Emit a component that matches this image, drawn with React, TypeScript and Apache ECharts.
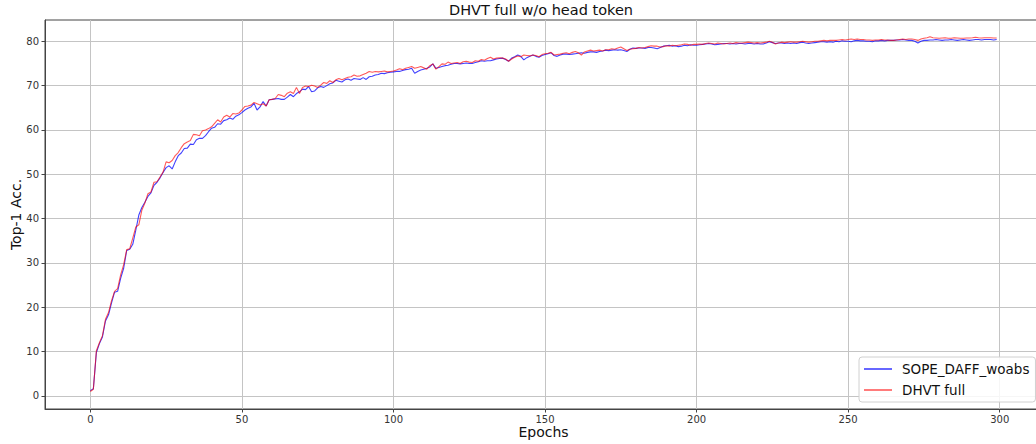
import React, { useEffect, useRef } from "react";
import * as echarts from "echarts";

const chartTitle = "DHVT full w/o head token";
const seriesNames = ["SOPE_DAFF_woabs", "DHVT full"];
const xTicks = [0, 50, 100, 150, 200, 250, 300];
const yTicks = [0, 10, 20, 30, 40, 50, 60, 70, 80];

// Top-1 accuracy per epoch (0..299)
const sopeDaffWoabs = [
  1.2, 1.6, 9.8, 11.8, 13.3, 16.9, 18.3, 21.0, 23.4, 23.6,
  26.5, 28.8, 32.8, 33.1, 34.2, 37.4, 40.8, 42.5, 43.7, 45.0,
  45.8, 47.5, 48.2, 49.2, 50.4, 51.5, 51.9, 51.2, 52.8, 54.2,
  54.8, 55.8, 55.9, 56.8, 56.7, 57.8, 58.1, 58.1, 58.7, 59.6,
  60.4, 60.6, 61.4, 61.3, 62.1, 62.3, 62.7, 62.4, 63.1, 63.4,
  63.9, 64.5, 64.9, 65.2, 66.0, 64.5, 65.2, 66.4, 65.4, 66.8,
  66.9, 67.0, 67.1, 66.9, 66.9, 67.4, 68.0, 67.5, 68.2, 68.6,
  69.2, 69.1, 69.8, 68.6, 68.8, 69.5, 69.8, 69.6, 70.0, 70.4,
  70.6, 71.2, 71.0, 70.8, 71.3, 71.5, 71.2, 71.6, 71.5, 71.4,
  71.8, 71.4, 72.0, 72.1, 72.4, 72.5, 72.8, 72.7, 72.9, 73.0,
  73.1, 73.2, 73.2, 73.4, 73.6, 73.7, 73.9, 72.8, 73.2, 73.5,
  73.7, 73.9, 74.2, 74.9, 73.9, 74.1, 74.3, 74.5, 74.6, 74.8,
  75.0, 75.0, 74.9, 75.0, 75.1, 75.0, 75.0, 75.2, 75.4, 75.6,
  75.5, 75.6, 75.6, 75.8, 76.0, 76.1, 76.2, 75.9, 75.5, 76.2,
  76.5, 76.9, 76.6, 75.8, 76.3, 76.6, 76.9, 76.6, 76.4, 76.8,
  77.0, 77.2, 77.4, 76.8, 76.6, 76.9, 77.1, 77.1, 77.0, 77.1,
  77.2, 77.3, 77.4, 77.3, 77.5, 77.6, 77.6, 77.5, 77.7, 77.8,
  78.0, 77.9, 78.0, 78.1, 78.0, 78.1, 77.9, 77.7, 78.2, 78.5,
  78.4, 78.5, 78.5, 78.4, 78.6, 78.6, 78.5, 78.3, 78.6, 78.9,
  79.0, 79.1, 78.9, 79.0, 78.8, 78.9, 79.1, 79.0, 79.2, 79.1,
  79.1, 79.2, 79.3, 79.4, 79.5, 79.4, 79.2, 79.3, 79.4, 79.5,
  79.5, 79.4, 79.5, 79.4, 79.5, 79.5, 79.4, 79.5, 79.5, 79.4,
  79.5, 79.4, 79.4, 79.6, 79.9, 79.7, 79.5, 79.6, 79.6, 79.5,
  79.6, 79.5, 79.6, 79.5, 79.7, 79.8, 79.6, 79.5, 79.6, 79.7,
  79.8, 79.9, 79.9, 79.8, 79.9, 79.8, 80.0, 79.9, 80.1, 80.0,
  80.0, 79.9, 80.1, 80.2, 80.1, 80.1, 80.0, 80.0, 79.9, 80.1,
  80.1, 80.2, 80.1, 80.2, 80.2, 80.2, 80.3, 80.3, 80.4, 80.3,
  80.2, 80.2, 80.0, 79.6, 80.0, 80.2, 80.2, 80.3, 80.3, 80.4,
  80.3, 80.2, 80.3, 80.3, 80.4, 80.3, 80.2, 80.3, 80.4, 80.3,
  80.2, 80.3, 80.4, 80.4, 80.3, 80.4, 80.4, 80.4, 80.3, 80.4,
];

const dhvtFull = [
  1.0, 1.5, 10.2, 12.0, 13.6, 17.3, 18.8, 21.5, 23.6, 24.2,
  27.3, 29.6, 33.0, 33.2, 35.6, 38.1, 38.6, 41.9, 43.5, 45.6,
  46.0, 48.2, 48.3, 49.4, 50.5, 52.8, 52.6, 53.1, 54.2, 54.9,
  56.0, 56.9, 57.3, 57.6, 59.0, 58.9, 58.7, 59.8, 60.0, 60.3,
  60.7, 61.5, 62.3, 61.8, 62.9, 63.3, 62.9, 63.7, 63.6, 63.8,
  64.5, 65.3, 65.4, 65.6, 66.2, 65.9, 65.6, 65.9, 65.4, 66.8,
  66.9, 67.1, 68.0, 67.8, 67.5, 68.3, 68.6, 68.2, 69.6, 68.2,
  69.6, 69.9, 69.8, 70.1, 69.9, 69.6, 70.1, 70.7, 70.5, 71.1,
  70.7, 71.3, 71.6, 71.3, 71.6, 71.9, 72.0, 72.4, 72.1, 72.2,
  72.5, 72.8, 73.2, 73.0, 73.2, 73.1, 73.2, 73.3, 73.1, 73.2,
  73.3, 73.5, 73.8, 73.6, 73.9, 74.1, 74.3, 73.9, 74.1, 74.3,
  74.0, 73.7, 74.5, 74.9, 73.7, 74.3, 74.9, 74.8, 75.3, 75.0,
  75.1, 75.2, 75.0, 75.4, 75.5, 75.3, 75.2, 75.6, 75.5, 75.9,
  75.7, 76.1, 76.4, 76.0, 76.2, 76.3, 76.2, 76.0, 75.5, 76.0,
  76.4, 76.7, 76.5, 76.9, 76.8, 76.7, 76.9, 76.8, 76.5, 77.0,
  77.2, 77.3, 77.5, 76.9, 77.0, 77.1, 77.3, 77.4, 77.2, 77.5,
  77.7, 77.4, 76.9, 77.6, 77.8, 78.0, 77.8, 77.9, 78.0, 77.8,
  78.1, 78.1, 78.3, 78.2, 78.5, 78.7, 78.3, 77.9, 78.2, 78.3,
  78.4, 78.6, 78.5, 78.6, 78.8, 79.0, 78.9, 78.9, 78.7, 78.8,
  79.0, 78.9, 79.1, 79.0, 79.1, 79.2, 79.4, 79.3, 79.1, 79.3,
  79.3, 79.4, 79.3, 79.5, 79.6, 79.5, 79.4, 79.6, 79.5, 79.4,
  79.5, 79.6, 79.5, 79.7, 79.6, 79.6, 79.7, 79.8, 79.7, 79.6,
  79.7, 79.6, 79.7, 79.8, 80.0, 79.8, 79.4, 79.6, 79.8, 79.7,
  79.8, 79.9, 79.8, 79.8, 79.9, 80.0, 79.9, 79.8, 79.9, 80.0,
  80.0, 80.1, 80.2, 80.1, 80.2, 80.2, 80.2, 80.3, 80.4, 80.3,
  80.4, 80.5, 80.4, 80.5, 80.4, 80.4, 80.3, 80.3, 80.2, 80.3,
  80.3, 80.4, 80.3, 80.3, 80.2, 80.2, 80.3, 80.4, 80.5, 80.4,
  80.5, 80.5, 80.4, 80.2, 80.5, 80.7, 80.8, 81.0, 80.8, 80.75,
  80.7, 80.75, 80.8, 80.7, 80.7, 80.8, 80.75, 80.7, 80.7, 80.75,
  80.75, 80.8, 80.9, 80.8, 80.75, 80.8, 80.8, 80.8, 80.75, 80.75,
];

const FONT = "DejaVu Sans";
const BLUE = "rgba(0,0,255,0.75)";
const RED = "rgba(255,0,0,0.65)";

export default function App() {
  const ref = useRef<HTMLDivElement>(null);
  useEffect(() => {
    document.body.style.margin = "0";
    const chart = echarts.init(ref.current!, null, { renderer: "svg" });
    const toPairs = (arr: number[]) => arr.map((v, i) => [i, v]);
    chart.setOption({
      animation: false,
      backgroundColor: "#ffffff",
      grid: {
        left: 45,
        top: 20,
        width: 997,
        height: 389,
        show: true,
        borderColor: "#444",
        borderWidth: 1,
        containLabel: false,
        outerBoundsMode: "none",
      },
      graphic: [
        {
          type: "text",
          x: 541,
          y: 10,
          style: {
            text: chartTitle,
            font: `14.5px '${FONT}'`,
            fill: "#111",
            align: "center",
            verticalAlign: "middle",
          },
        },
      ],
      xAxis: {
        type: "value",
        min: -14.95,
        max: 313.95,
        name: "Epochs",
        nameLocation: "middle",
        nameGap: 16,
        nameMoveOverlap: false,
        nameTextStyle: { fontFamily: FONT, fontSize: 14, color: "#111" },
        axisLine: { show: true, onZero: false, lineStyle: { color: "#444" } },
        axisTick: { show: true, length: 3.5, customValues: xTicks, lineStyle: { color: "#444" } },
        axisLabel: {
          customValues: xTicks,
          fontFamily: FONT,
          fontSize: 10,
          color: "#333",
          margin: 5,
        },
        splitLine: { show: true, lineStyle: { color: "#c4c4c4", width: 1 } },
      },
      yAxis: {
        type: "value",
        min: -2.95,
        max: 84.8,
        name: "Top-1 Acc.",
        nameLocation: "middle",
        nameGap: 22,
        nameMoveOverlap: false,
        nameRotate: 90,
        nameTextStyle: { fontFamily: FONT, fontSize: 14, color: "#111" },
        axisLine: { show: true, onZero: false, lineStyle: { color: "#444" } },
        axisTick: { show: true, length: 3.5, customValues: yTicks, lineStyle: { color: "#444" } },
        axisLabel: {
          customValues: yTicks,
          fontFamily: FONT,
          fontSize: 10,
          color: "#333",
          margin: 6,
        },
        splitLine: { show: true, lineStyle: { color: "#c4c4c4", width: 1 } },
      },
      legend: {
        data: seriesNames,
        orient: "vertical",
        left: 859,
        top: 357,
        icon: "rect",
        itemWidth: 28,
        itemHeight: 1.6,
        itemGap: 3,
        padding: [3, 6, 3, 5],
        backgroundColor: "rgba(255,255,255,0.85)",
        borderColor: "#d0d0d0",
        borderWidth: 1,
        borderRadius: 3,
        textStyle: {
          fontFamily: FONT,
          fontSize: 13.5,
          color: "#111",
          lineHeight: 18,
          padding: [0, 0, 0, 5],
        },
      },
      series: [
        {
          name: seriesNames[0],
          type: "line",
          data: toPairs(sopeDaffWoabs),
          showSymbol: false,
          symbol: "none",
          color: BLUE,
          itemStyle: { color: BLUE },
          lineStyle: { color: BLUE, width: 1.1 },
          z: 2,
        },
        {
          name: seriesNames[1],
          type: "line",
          data: toPairs(dhvtFull),
          showSymbol: false,
          symbol: "none",
          color: RED,
          itemStyle: { color: RED },
          lineStyle: { color: RED, width: 1.1 },
          z: 3,
        },
      ],
    });
    return () => chart.dispose();
  }, []);
  return <div ref={ref} style={{ width: 1036, height: 444 }} />;
}
